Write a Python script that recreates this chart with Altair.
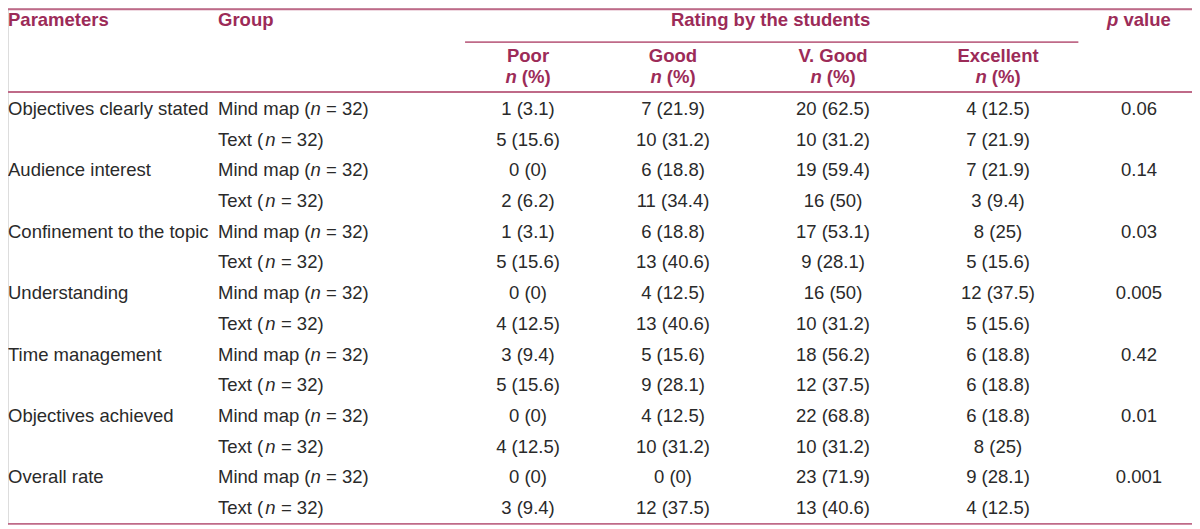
import altair as alt
import pandas as pd

# ---------------- data ----------------
parameters = ["Objectives clearly stated", "Audience interest", "Confinement to the topic",
              "Understanding", "Time management", "Objectives achieved", "Overall rate"]
groups = ["Mind map", "Text"]
group_n = 32
ratings = ["Poor", "Good", "V. Good", "Excellent"]

mm_counts = [[1, 7, 20, 4], [0, 6, 19, 7], [1, 6, 17, 8], [0, 4, 16, 12],
             [3, 5, 18, 6], [0, 4, 22, 6], [0, 0, 23, 9]]
mm_pcts = [[3.1, 21.9, 62.5, 12.5], [0, 18.8, 59.4, 21.9], [3.1, 18.8, 53.1, 25],
           [0, 12.5, 50, 37.5], [9.4, 15.6, 56.2, 18.8], [0, 12.5, 68.8, 18.8],
           [0, 0, 71.9, 28.1]]
tx_counts = [[5, 10, 10, 7], [2, 11, 16, 3], [5, 13, 9, 5], [4, 13, 10, 5],
             [5, 9, 12, 6], [4, 10, 10, 8], [3, 12, 13, 4]]
tx_pcts = [[15.6, 31.2, 31.2, 21.9], [6.2, 34.4, 50, 9.4], [15.6, 40.6, 28.1, 15.6],
           [12.5, 40.6, 31.2, 15.6], [15.6, 28.1, 37.5, 18.8], [12.5, 31.2, 31.2, 25],
           [9.4, 37.5, 40.6, 12.5]]
p_values = [0.06, 0.14, 0.03, 0.005, 0.42, 0.01, 0.001]

# ---------------- styling ----------------
HEAD = "#9c2b58"
LINE = "#bf6a88"
BODY = "#2a2a2a"
FONT = "Liberation Sans"
FS = 18.5

# column index -> horizontal position (piecewise linear scale)
x_scale = alt.Scale(domain=[0, 1, 2, 3, 4, 5, 6, 7],
                    range=[0, 210, 520, 665, 825, 990, 1131, 1184])
y_scale = alt.Scale(domain=[0, 13], range=[101, 500])
X = lambda f="col": alt.X(f"{f}:Q", scale=x_scale, axis=None)
Y = lambda f="row": alt.Y(f"{f}:Q", scale=y_scale, axis=None)

# ---------------- tables ----------------
param_rows, group_rows, cell_rows, p_rows = [], [], [], []
for i, prm in enumerate(parameters):
    r_mm, r_tx = 2 * i, 2 * i + 1
    param_rows.append({"row": r_mm, "col": 0, "label": prm})
    group_rows.append({"row": r_mm, "col": 1, "g": groups[0], "label": groups[0] + " (", "rest": f"= {group_n})"})
    group_rows.append({"row": r_tx, "col": 1, "g": groups[1], "label": groups[1] + " (", "rest": f"= {group_n})"})
    for j in range(4):
        cell_rows.append({"row": r_mm, "col": 2 + j, "label": f"{mm_counts[i][j]} ({mm_pcts[i][j]:g})"})
        cell_rows.append({"row": r_tx, "col": 2 + j, "label": f"{tx_counts[i][j]} ({tx_pcts[i][j]:g})"})
    p_rows.append({"row": r_mm, "col": 6, "label": f"{p_values[i]:g}"})

params_df = pd.DataFrame(param_rows)
groups_df = pd.DataFrame(group_rows)
cells_df = pd.DataFrame(cell_rows + p_rows)

HR1, HR2, HR3 = -2.90, -1.727, -1.04
head_left = pd.DataFrame([{"row": HR1, "col": 0, "label": "Parameters"},
                          {"row": HR1, "col": 1, "label": "Group"}])
head_center = pd.DataFrame([{"row": HR1, "col": 3.61, "label": "Rating by the students"}] +
                           [{"row": HR2, "col": 2 + j, "label": r} for j, r in enumerate(ratings)])
npct = pd.DataFrame([{"row": HR3, "col": 2 + j} for j in range(4)])
pval_head = pd.DataFrame([{"row": HR1, "col": 6}])

rules_full = pd.DataFrame([{"row": -3.25, "c1": 0, "c2": 7},
                           {"row": -0.554, "c1": 0, "c2": 7},
                           {"row": 13.52, "c1": 0, "c2": 7}])
rules_part = pd.DataFrame([{"row": -2.18, "c1": 1.797, "c2": 5.57}])

# ---------------- marks ----------------
def txt(df, **kw):
    base = dict(font=FONT, fontSize=FS, baseline="middle")
    base.update(kw)
    return alt.Chart(df).mark_text(**base).encode(x=X(), y=Y(), text="label:N")

layers = []
layers.append(alt.Chart(rules_full).mark_rule(color=LINE, strokeWidth=1.8).encode(
    x=X("c1"), x2="c2:Q", y=Y()))
layers.append(alt.Chart(rules_part).mark_rule(color=LINE, strokeWidth=1.6).encode(
    x=X("c1"), x2="c2:Q", y=Y()))

layers.append(txt(head_left, align="left", fontWeight="bold", color=HEAD))
layers.append(txt(head_center, align="center", fontWeight="bold", color=HEAD))
# n (%)
layers.append(alt.Chart(npct).mark_text(font=FONT, fontSize=FS, baseline="middle", align="left",
                                         fontWeight="bold", fontStyle="italic", color=HEAD, dx=-22.6,
                                         text="n").encode(x=X(), y=Y()))
layers.append(alt.Chart(npct).mark_text(font=FONT, fontSize=FS, baseline="middle", align="left",
                                         fontWeight="bold", color=HEAD, dx=-6.2,
                                         text="(%)").encode(x=X(), y=Y()))
# p value
layers.append(alt.Chart(pval_head).mark_text(font=FONT, fontSize=FS, baseline="middle", align="left",
                                              fontWeight="bold", fontStyle="italic", color=HEAD, dx=-31.9,
                                              text="p").encode(x=X(), y=Y()))
layers.append(alt.Chart(pval_head).mark_text(font=FONT, fontSize=FS, baseline="middle", align="left",
                                              fontWeight="bold", color=HEAD, dx=-15.5,
                                              text="value").encode(x=X(), y=Y()))

# body
layers.append(txt(params_df, align="left", color=BODY))
layers.append(txt(groups_df, align="left", color=BODY))
for g, off in [("Mind map", 92.5), ("Text", 47.3)]:
    sub = alt.Chart(groups_df).transform_filter(alt.datum.g == g)
    layers.append(sub.mark_text(font=FONT, fontSize=FS, baseline="middle", align="left",
                                fontStyle="italic", color=BODY, dx=off, text="n").encode(x=X(), y=Y()))
    layers.append(sub.mark_text(font=FONT, fontSize=FS, baseline="middle", align="left",
                                color=BODY, dx=off + 15.6).encode(x=X(), y=Y(), text="rest:N"))
layers.append(txt(cells_df, align="center", color=BODY))

chart = alt.layer(*layers).properties(
    width=1184, height=517, padding=0, autosize=alt.AutoSizeParams(type="none")
).configure_view(stroke=None).configure(background="white")

chart.save("out.html", embed_options={"renderer": "svg", "actions": False})
